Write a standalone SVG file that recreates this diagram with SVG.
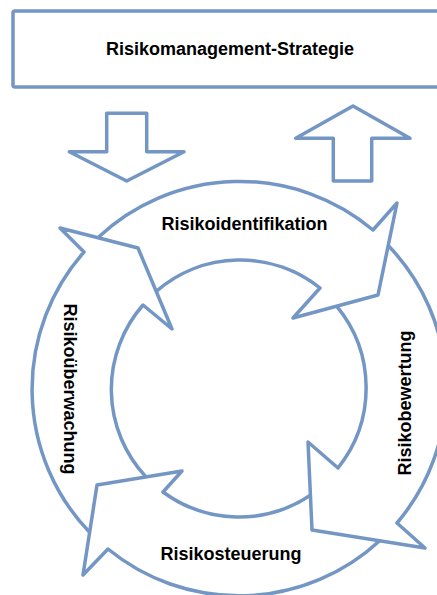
<svg xmlns="http://www.w3.org/2000/svg" width="437" height="595" viewBox="0 0 437 595">
<style>
.shape{fill:#ffffff;stroke:#7396C4;stroke-width:3.5;stroke-linejoin:round}
.ring{fill:none;stroke:#7396C4;stroke-width:3.5;stroke-linejoin:round}
.lbl{font-family:"Liberation Sans",Arial,sans-serif;font-weight:bold;font-size:18px;fill:#000000;text-anchor:middle}
</style>
<rect width="437" height="595" fill="#ffffff"/>
<g id="strategie">
<rect x="13" y="11" width="440" height="76" rx="2" class="shape"/>
<text x="230" y="55" class="lbl">Risikomanagement-Strategie</text>
</g>
<g id="connectors">
<path class="shape" d="M106.7,113.3 H146.7 V151.7 H184 L126.7,181 L69.3,151.7 H106.7 Z"/>
<path class="shape" d="M353,106 L410,138.3 H371.7 V181 H333.3 V138.3 H295.7 Z"/>
</g>
<g id="risikoidentifikation">
<path class="ring" d="M97.8,237.7 A207,207 0 0 1 373,230 L397,203 L378,295 L293,318 L320,288 A128,128 0 0 0 156.2,291.4"/>
<text x="244.5" y="230" class="lbl">Risikoidentifikation</text>
</g>
<g id="risikobewertung">
<path class="ring" d="M388.2,245.5 A207,207 0 0 1 397,523 L425,548 L312,530 L308,442 L338,468 A128,128 0 0 0 336.6,306.2"/>
<text x="0" y="0" class="lbl" transform="translate(411,403) rotate(-90)">Risikobewertung</text>
</g>
<g id="risikosteuerung">
<path class="ring" d="M379.7,540.8 A207,207 0 0 1 108,549 L83,575 L97,485 L182,471 L163,492 A128,128 0 0 0 310.4,495.2"/>
<text x="231" y="560" class="lbl">Risikosteuerung</text>
</g>
<g id="risikoueberwachung">
<path class="ring" d="M89.6,532.3 A207,207 0 0 1 84,252 L60,228 L138,248 L172,329 L143,305 A128,128 0 0 0 146,476.9"/>
<text x="0" y="0" class="lbl" transform="translate(64,389) rotate(90)">Risikoüberwachung</text>
</g>
</svg>
